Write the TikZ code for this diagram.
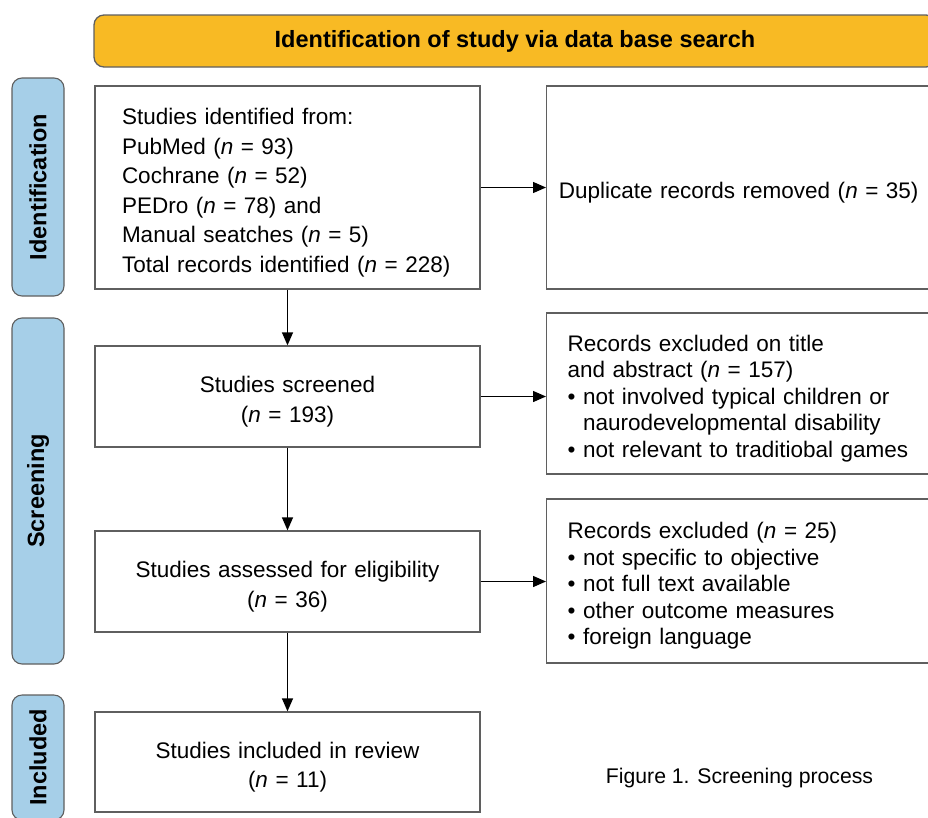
\documentclass[tikz,border=0pt]{standalone}
\usepackage{fontspec}
\setmainfont{Liberation Sans}
\usepackage{xcolor}
\usetikzlibrary{arrows.meta}

\definecolor{headorange}{RGB}{248,186,36}
\definecolor{sideblue}{RGB}{166,207,232}
\definecolor{boxgray}{RGB}{95,95,95}
\newcommand{\nval}[1]{(\textit{n} = #1)}

\begin{document}
\begin{tikzpicture}[x=1pt, y=-1pt,
    every node/.style={font=\fontsize{22.5}{29.5}\selectfont},
    stagebox/.style={draw=boxgray, line width=1.3pt, minimum width=385pt, inner sep=0pt, align=center,
      text width=365pt, execute at begin node={\rule{0pt}{27pt}}},
    listbox/.style={stagebox, align=left, text width=331pt, inner xsep=27pt,
      execute at begin node={\rule{0pt}{22pt}}},
    sidebox/.style={draw=boxgray, line width=1.1pt, fill=sideblue, rounded corners=10pt, rotate=90,
      minimum height=52pt, inner sep=0pt, font=\fontsize{23.5}{26}\selectfont\bfseries},
    outbox/.style={draw=boxgray, line width=1.3pt, anchor=west, align=left, text width=360pt,
      inner xsep=21pt, font=\fontsize{22.5}{26.5}\selectfont, execute at begin node={\rule{0pt}{26pt}}},
    flow/.style={line width=1.3pt, -{Triangle[length=13pt, width=11pt]}}
  ]
  \useasboundingbox (0,0) rectangle (928,817);

  % header
  \node[draw=boxgray, line width=1.3pt, fill=headorange, rounded corners=10pt,
    minimum width=842pt, minimum height=52pt, font=\fontsize{23.5}{26}\selectfont\bfseries](head) at (515, 41){Identification of study via data base search};

  % stages on the left
  \node[sidebox, minimum width=218pt](sideid) at (38, 187){Identification};
  \node[sidebox, minimum width=346pt](sidescr) at (38, 491){Screening};
  \node[sidebox, minimum width=125pt](sideinc) at (38, 757.5){Included};

  % main column
  \node[listbox, minimum height=203pt](ident) at (287.5, 187.5){Studies identified from:\\
    PubMed \nval{93}\\
    Cochrane \nval{52}\\
    PEDro \nval{78} and\\
    Manual seatches \nval{5}\\
    Total records identified \nval{228}};
  \node[stagebox, minimum height=101pt](screened) at (287.5, 396.5){Studies screened\\ \nval{193}};
  \node[stagebox, minimum height=101pt](assessed) at (287.5, 581.5){Studies assessed for eligibility\\ \nval{36}};
  \node[stagebox, minimum height=100pt](included) at (287.5, 762){Studies included in review\\ \nval{11}};

  % removed records on the right
  \node[outbox, align=center, minimum height=203pt, inner xsep=12pt,
    execute at begin node={\rule{0pt}{20pt}}](dup) at (546, 187.5){Duplicate records removed \nval{35}};
  \node[outbox, minimum height=161pt](excltitle) at (546, 393.5){Records excluded on title\\
    and abstract \nval{157}\\
    • not involved typical children or\\
    \phantom{• }naurodevelopmental disability\\
    • not relevant to traditiobal games};
  \node[outbox, minimum height=164pt](exclfull) at (546, 581){Records excluded \nval{25}\\
    • not specific to objective\\
    • not full text available\\
    • other outcome measures\\
    • foreign language};

  \node[font=\fontsize{21.2}{25}\selectfont](caption) at (739.5, 778){Figure 1. Screening process};

  % arrows
  \draw[flow] (ident) -- (screened);
  \draw[flow] (screened) -- (assessed);
  \draw[flow] (assessed) -- (included);
  \draw[flow] (ident.east) -- (dup.west);
  \draw[flow] (screened.east) -- (screened.east -| excltitle.west);
  \draw[flow] (assessed.east) -- (assessed.east -| exclfull.west);
\end{tikzpicture}
\end{document}
